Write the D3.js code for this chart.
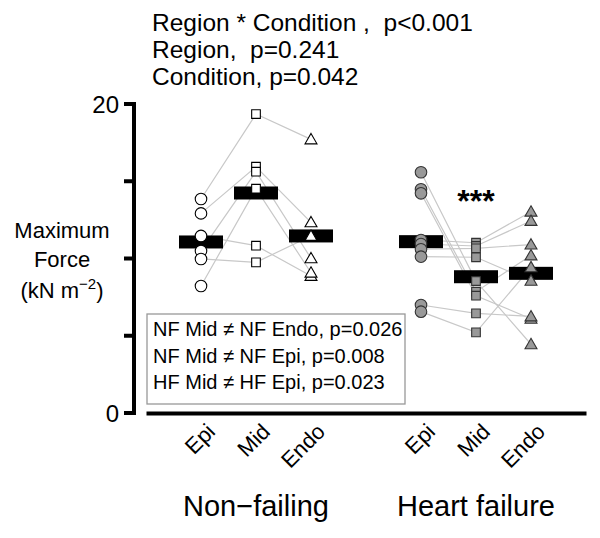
<!DOCTYPE html>
<html>
<head>
<meta charset="utf-8">
<script src="https://cdn.jsdelivr.net/npm/d3@7"></script>
<style>
  body { margin: 0; background: #fff; }
  text { font-family: "Liberation Sans", Arial, Helvetica, sans-serif; fill: #000; }
</style>
</head>
<body>
<svg id="chart" width="600" height="538"></svg>
<script>
// regions and groups
const regions = ['Epi', 'Mid', 'Endo'];
const groups = ['Non\u2212failing', 'Heart failure'];

// non-failing, one entry per heart (Epi, Mid, Endo)
const nfEpi  = [13.85, 12.92, 11.46, 10.49, 9.97, 8.22];
const nfMid  = [19.35, 15.94, 10.83, 15.62, 9.75, 14.52];
const nfEndo = [17.71, 12.34, 8.87, 10.01, 11.46, 9.08];

// heart failure
const hfEpi  = [15.58, 14.48, 14.22, 11.2, 10.94, 10.6, 10.12, 6.99, 6.56];
const hfMid  = [8.54, 7.85, 7.59, 11.02, 10.81, 10.66, 10.08, 6.45, 5.22];
const hfEndo = [4.45, 10.2, 6.1, 13.03, 12.43, 10.9, 8.56, 6.25, 9.43];

// group means (black bars)
const nfMean = [11.07, 14.24, 11.46];
const hfMean = [11.09, 8.82, 9.04];

const yTicks = [0, 5, 10, 15, 20];
const yTickLabels = ['0', '', '', '', '20'];

const statLines = ['Region * Condition ,  p<0.001', 'Region,  p=0.241', 'Condition, p=0.042'];
const postHoc = ['NF Mid \u2260 NF Endo, p=0.026', 'NF Mid \u2260 NF Epi, p=0.008', 'HF Mid \u2260 HF Epi, p=0.023'];

const svg = d3.select('#chart');

const x = d3.scaleLinear().domain([0, 8]).range([146, 586]);
const y = d3.scaleLinear().domain([0, 20]).range([413, 104]);

const sets = [
  { pos: [1, 2, 3], cols: [nfEpi, nfMid, nfEndo], mean: nfMean, fill: '#fff', stroke: '#000' },
  { pos: [5, 6, 7], cols: [hfEpi, hfMid, hfEndo], mean: hfMean, fill: '#999', stroke: '#333' }
];

// connecting lines per heart
const line = d3.line().x(d => x(d[0])).y(d => y(d[1]));
sets.forEach(s => {
  const subj = d3.range(s.cols[0].length).map(i => s.pos.map((p, j) => [p, s.cols[j][i]]));
  svg.append('g').selectAll('path').data(subj).join('path')
    .attr('d', line)
    .attr('fill', 'none')
    .attr('stroke', '#c8c8c8')
    .attr('stroke-width', 1.2);
});

// mean bars
sets.forEach(s => {
  svg.append('g').selectAll('rect').data(s.mean).join('rect')
    .attr('x', (d, j) => x(s.pos[j]) - 22)
    .attr('y', d => y(d) - 6.5)
    .attr('width', 44)
    .attr('height', 13)
    .attr('fill', '#000');
});

// points
const shapes = [d3.symbolCircle, d3.symbolSquare, d3.symbolTriangle];
const sizes = [105, 75, 62];
sets.forEach(s => {
  s.cols.forEach((vals, j) => {
    svg.append('g').selectAll('path').data(vals).join('path')
      .attr('transform', d => `translate(${x(s.pos[j])},${y(d) + (j === 2 ? 1 : 0)})`)
      .attr('d', d3.symbol().type(shapes[j]).size(sizes[j]))
      .attr('fill', s.fill)
      .attr('stroke', s.stroke)
      .attr('stroke-width', 1.1);
  });
});

// y axis (R style: spine from 0 to 20, thick ticks), drawn as filled bars
const axX = 134;
const lw = 4;
const yAxis = svg.append('g');
yAxis.append('rect')
  .attr('x', axX - lw / 2).attr('width', lw)
  .attr('y', y(20) - lw / 2).attr('height', y(0) - y(20) + lw)
  .attr('fill', '#000');
yAxis.selectAll('rect.tk').data(yTicks).join('rect')
  .attr('class', 'tk')
  .attr('x', axX - 10).attr('width', 10)
  .attr('y', d => y(d) - lw / 2).attr('height', lw)
  .attr('fill', '#000');
yAxis.selectAll('text').data(yTicks).join('text')
  .attr('x', axX - 15)
  .attr('y', d => y(d))
  .attr('dy', '0.36em')
  .attr('text-anchor', 'end')
  .attr('font-size', 24)
  .text((d, i) => yTickLabels[i]);

// x axis
const xAxis = svg.append('g')
  .attr('transform', `translate(0,${y(0)})`)
  .call(d3.axisBottom(x).tickValues([1, 2, 3, 5, 6, 7]).tickSize(0).tickSizeOuter(0)
    .tickFormat((d, i) => regions[i % 3]));
xAxis.attr('font-size', 22).attr('font-family', '"Liberation Sans", Arial, sans-serif')
  .attr('stroke-width', 4);
xAxis.select('.domain').attr('stroke', '#000').attr('stroke-width', 4);
xAxis.selectAll('.tick text')
  .attr('text-anchor', 'end')
  .attr('dy', null)
  .attr('y', null)
  .attr('transform', 'translate(15,20) rotate(-45)');

// group labels
svg.append('g').selectAll('text').data(groups).join('text')
  .attr('x', (d, i) => x(sets[i].pos[1]))
  .attr('y', 516)
  .attr('text-anchor', 'middle')
  .attr('font-size', 29)
  .text(d => d);

// y label
const yl = svg.append('text').attr('text-anchor', 'middle').attr('font-size', 22);
yl.append('tspan').attr('x', 62).attr('y', 238).text('Maximum');
yl.append('tspan').attr('x', 62).attr('y', 267).text('Force');
const t3 = yl.append('tspan').attr('x', 62).attr('y', 298);
t3.append('tspan').text('(kN m');
t3.append('tspan').attr('font-size', 15).attr('dy', -9).text('\u22122');
t3.append('tspan').attr('dy', 9).text(')');

// anova results
svg.append('g').selectAll('text').data(statLines).join('text')
  .attr('x', 152)
  .attr('y', (d, i) => 31 + i * 27)
  .attr('font-size', 24.5)
  .style('white-space', 'pre')
  .text(d => d);

// significance marker
svg.append('text')
  .attr('x', x(6))
  .attr('y', 212)
  .attr('text-anchor', 'middle')
  .attr('font-size', 32)
  .attr('font-weight', 'bold')
  .text('***');

// post hoc box
svg.append('rect')
  .attr('x', 147).attr('y', 314).attr('width', 258).attr('height', 90)
  .attr('fill', '#fff').attr('stroke', '#999').attr('stroke-width', 1.3);
svg.append('g').selectAll('text').data(postHoc).join('text')
  .attr('x', 153)
  .attr('y', (d, i) => 336 + i * 26.5)
  .attr('font-size', 20)
  .text(d => d);
</script>
</body>
</html>
